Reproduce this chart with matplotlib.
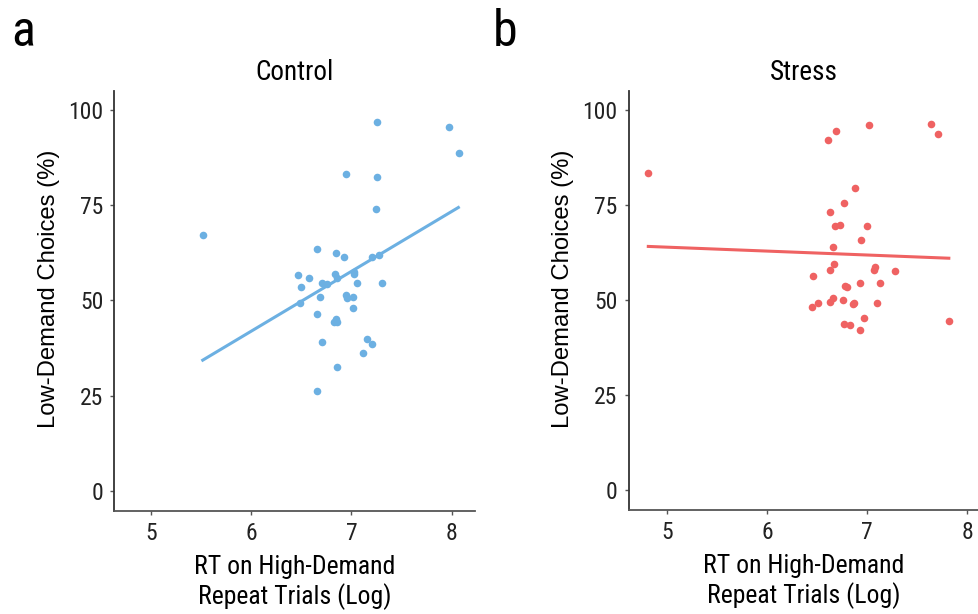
import numpy as np
import matplotlib.pyplot as plt
from matplotlib import font_manager
from matplotlib.font_manager import FontProperties

# Control group (panel a)
ctrl_rt = [7.256, 7.976, 8.076, 6.947, 7.256, 7.246, 5.518, 6.658, 6.844, 6.930,
           7.203, 7.272, 6.471, 6.575, 6.834, 6.854, 7.030, 7.030, 6.501, 6.710,
           6.754, 7.059, 7.305, 6.488, 6.687, 6.943, 6.960, 7.020, 7.016, 6.658,
           6.844, 6.830, 6.860, 7.156, 7.206, 6.710, 7.120, 6.860, 6.658]
ctrl_low = [96.8, 95.5, 88.6, 83.1, 82.4, 73.9, 67.3, 63.5, 62.4, 61.5,
            61.5, 61.8, 56.6, 55.9, 57.0, 55.8, 56.9, 57.5, 53.6, 54.6,
            54.3, 54.6, 54.6, 49.4, 51.0, 51.4, 50.6, 51.0, 48.1, 46.5,
            45.1, 44.2, 44.4, 39.9, 38.6, 39.0, 36.3, 32.4, 26.2]
ctrl_fit_x = [5.518, 8.066]
ctrl_fit_y = [34.3, 74.4]

# Stress group (panel b)
stress_rt = [4.811, 6.609, 6.694, 7.017, 7.638, 7.711, 6.881, 6.771, 6.632, 6.681,
             6.731, 7.003, 6.944, 6.658, 6.671, 6.632, 6.459, 7.083, 7.070, 7.276,
             6.781, 6.798, 6.931, 7.130, 6.445, 6.509, 6.632, 6.658, 6.758, 6.858,
             6.874, 7.103, 6.970, 6.768, 6.831, 6.931, 7.824]
stress_low = [83.3, 92.1, 94.4, 96.0, 96.3, 93.8, 79.4, 75.5, 73.2, 69.4,
              69.7, 69.4, 65.7, 63.9, 59.6, 57.9, 56.3, 58.7, 58.0, 57.6,
              53.8, 53.3, 54.4, 54.4, 48.2, 49.2, 49.5, 50.5, 50.1, 48.9,
              49.2, 49.2, 45.3, 43.6, 43.3, 42.0, 44.6]
stress_fit_x = [4.811, 7.818]
stress_fit_y = [64.1, 61.0]

yticks = [0, 25, 50, 75, 100]
xticks = [5, 6, 7, 8]

# look for a condensed face, otherwise fall back to an Arial-like one
cond = [f for f in font_manager.fontManager.ttflist
        if ('Condensed' in f.name or 'Narrow' in f.name or 'condensed' in str(f.stretch))
        and f.style == 'normal' and f.weight in (400, 'normal', 'regular')
        and 'extra' not in str(f.stretch) and 'ultra' not in str(f.stretch)]
if cond:
    cond.sort(key=lambda f: (0 if 'Roboto' in f.name else 1 if 'Liberation' in f.name else 2))
    def narrow(size):
        return FontProperties(fname=cond[0].fname, size=size)
else:
    def narrow(size):
        return FontProperties(family='Liberation Sans', size=size)
wide = FontProperties(family='Liberation Sans', size=17.2)

fig = plt.figure(figsize=(9.79, 6.14), dpi=100)
ax1 = fig.add_axes([0.1168, 0.1682, 0.3684, 0.6836])
ax2 = fig.add_axes([0.6422, 0.1694, 0.3578, 0.6824])

panels = [
    (ax1, ctrl_rt, ctrl_low, ctrl_fit_x, ctrl_fit_y, '#6cb0e2', 'Control', (4.637, 8.232)),
    (ax2, stress_rt, stress_low, stress_fit_x, stress_fit_y, '#ef6262', 'Stress', (4.615, 8.12)),
]

for ax, x, y, fx, fy, col, title, xlim in panels:
    ax.plot(fx, fy, color=col, lw=2.2, zorder=2)
    ax.scatter(x, y, s=30, color=col, linewidths=0, zorder=3)
    ax.set_xlim(*xlim)
    ax.set_ylim(-5.25, 105)
    ax.set_xticks(xticks)
    ax.set_yticks(yticks)
    ax.spines['top'].set_visible(False)
    ax.spines['right'].set_visible(False)
    ax.spines['left'].set_color('#333333')
    ax.spines['bottom'].set_color('#555555')
    ax.spines['left'].set_linewidth(1.3)
    ax.spines['bottom'].set_linewidth(1.3)
    ax.tick_params(length=3, width=1, color='#555555', pad=5)
    for lab in ax.get_xticklabels() + ax.get_yticklabels():
        lab.set_fontproperties(narrow(17))
        lab.set_color('#222222')
    ax.set_title(title, fontproperties=narrow(19.5), pad=8)
    ax.set_ylabel('Low-Demand Choices (%)', fontproperties=wide, labelpad=6)
    ax.yaxis.label.set_y(0.528)
    ax.set_xlabel('RT on High-Demand\nRepeat Trials (Log)', fontproperties=narrow(18.5),
                  labelpad=7, linespacing=1.22)

fig.text(0.012, 0.925, 'a', fontproperties=narrow(36))
fig.text(0.503, 0.925, 'b', fontproperties=narrow(36))

fig.savefig('out.png', dpi=100)
